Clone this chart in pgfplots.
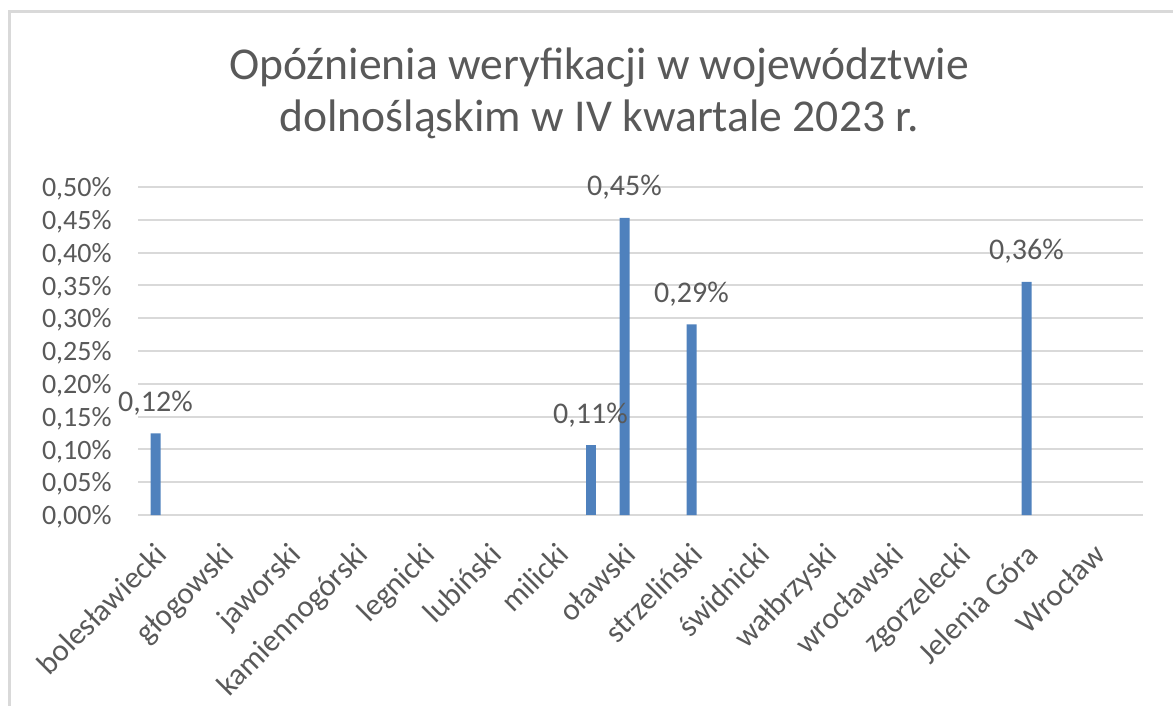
\documentclass[border=0pt]{standalone}
\usepackage{pgfplots}
\pgfplotsset{compat=1.18}
\usepackage{fontspec}
\setmainfont{Carlito}
\definecolor{txt}{HTML}{595959}
\definecolor{gridc}{HTML}{D9D9D9}
\definecolor{barc}{HTML}{4F81BD}
\begin{document}
\begin{tikzpicture}
\path[use as bounding box] (0,0) rectangle (586.5pt,-353pt);
\fill[gridc] (4pt,-5pt) rectangle (5.5pt,-353pt);
\fill[gridc] (4pt,-5pt) rectangle (586.5pt,-6.5pt);
\node[anchor=base, text=txt, font=\fontsize{22.8}{27}\selectfont, inner sep=0pt] at (299.5pt,-40pt) {Opóźnienia weryfikacji w województwie};
\node[anchor=base, text=txt, font=\fontsize{22.8}{27}\selectfont, inner sep=0pt] at (299.5pt,-65.85pt) {dolnośląskim w IV kwartale 2023 r.};
\begin{axis}[
  at={(69pt,-257.5pt)}, anchor=south west,
  scale only axis, width=502.5pt, height=164pt,
  xmin=-0.5, xmax=14.5, ymin=0, ymax=0.5,
  ybar, bar width=5pt,
  axis line style={draw=none},
  major tick length=0pt,
  ymajorgrids, grid style={gridc, line width=1pt},
  ytick={0,0.05,0.1,0.15,0.2,0.25,0.3,0.35,0.4,0.45,0.5},
  yticklabels={{0,00\%},{0,05\%},{0,10\%},{0,15\%},{0,20\%},{0,25\%},{0,30\%},{0,35\%},{0,40\%},{0,45\%},{0,50\%}},
  yticklabel style={anchor=east, inner sep=0pt, xshift=-13pt, yshift=-1pt, text=txt, font=\fontsize{14}{17}\selectfont},
  xtick={0,1,2,3,4,5,6,7,8,9,10,11,12,13,14},
  xticklabels={bolesławiecki,głogowski,jaworski,kamiennogórski,legnicki,lubiński,milicki,oławski,strzeliński,świdnicki,wałbrzyski,wrocławski,zgorzelecki,Jelenia Góra,Wrocław},
  xticklabel style={xshift=-9pt, yshift=-13pt, rotate=45, anchor=north east, inner sep=0pt, text=txt, font=\fontsize{15.5}{18}\selectfont},
  clip=false,
  point meta=y,
  nodes near coords={\pgfmathprintnumber[fixed,fixed zerofill,precision=2,use comma,assume math mode=true]{\pgfplotspointmeta}\%},
  every node near coord/.append style={text=txt, font=\fontsize{15}{18}\selectfont, inner sep=0pt, yshift=9pt},
]
\addplot[fill=barc, draw=none, bar shift=-8pt] coordinates {(0,0.1245) (7,0.453) (8,0.2907) (13,0.3555)};
\addplot[fill=barc, draw=none, bar shift=8.5pt] coordinates {(6,0.106)};
\end{axis}
\end{tikzpicture}
\end{document}
